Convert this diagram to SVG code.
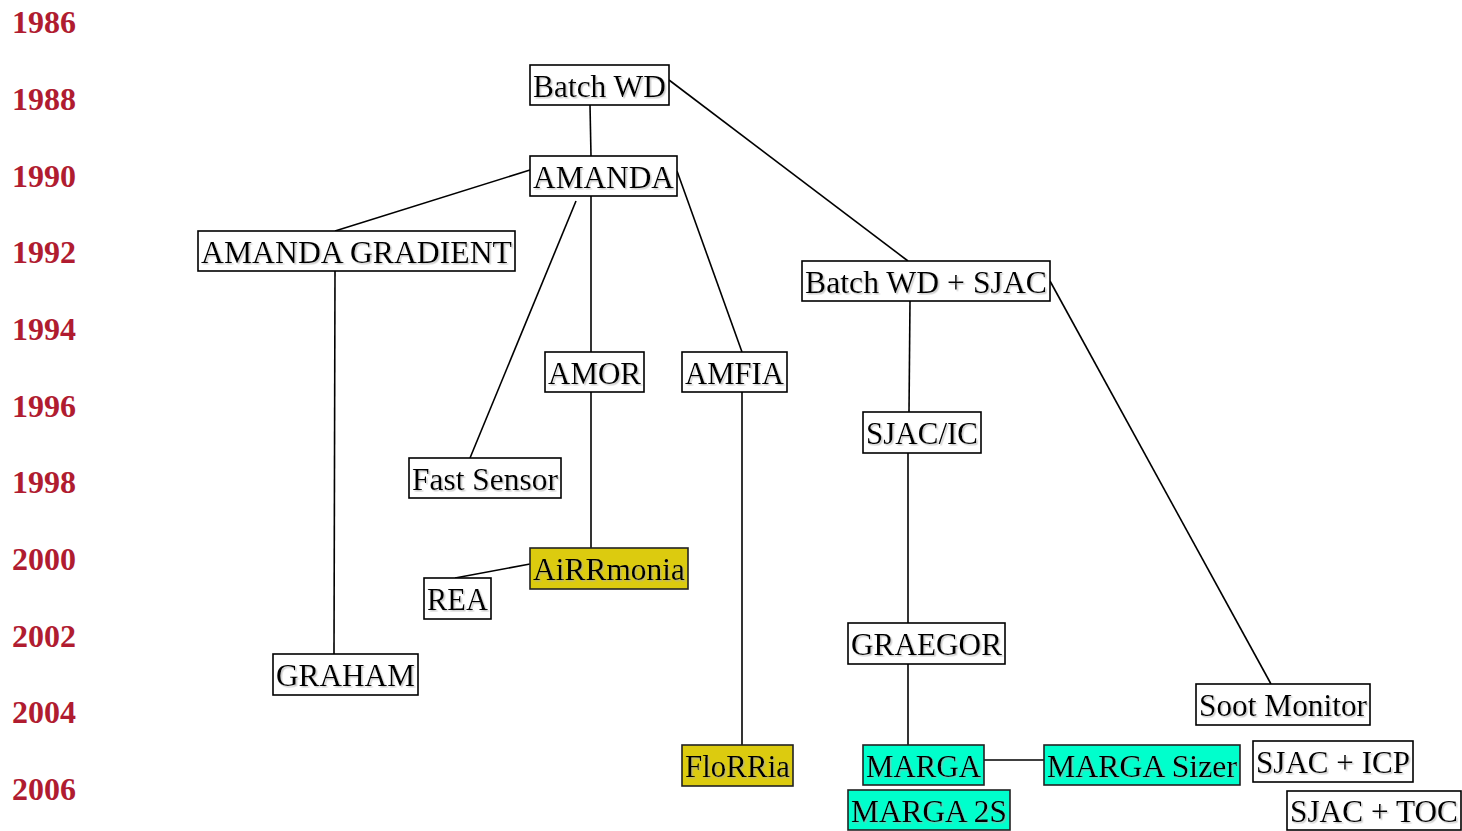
<svg xmlns="http://www.w3.org/2000/svg" width="1462" height="831" viewBox="0 0 1462 831">
<style>
.yr{font-family:"Liberation Serif","Times New Roman",serif;font-weight:bold;font-size:32px;fill:#b01c30}
.nb{fill:#ffffff;stroke:#000;stroke-width:1.6}
.ny{fill:#dccb0f;stroke:#222;stroke-width:1.6}
.nt{fill:#00ffcc;stroke:#222;stroke-width:1.6}
.lbl{font-family:"Liberation Serif","Times New Roman",serif;font-size:31px;fill:#000;text-anchor:middle;filter:url(#sh)}
#edges line{stroke:#000;stroke-width:1.6}
</style>
<defs>
<filter id="sh" x="-5%" y="-20%" width="110%" height="140%">
<feDropShadow dx="1.5" dy="1.5" stdDeviation="0.6" flood-color="#aaa" flood-opacity="0.6"/>
</filter>
</defs>
<rect width="1462" height="831" fill="#fff"/>
<g id="years">
<text class="yr" x="12" y="33">1986</text>
<text class="yr" x="12" y="110">1988</text>
<text class="yr" x="12" y="186.5">1990</text>
<text class="yr" x="12" y="263">1992</text>
<text class="yr" x="12" y="340">1994</text>
<text class="yr" x="12" y="416.5">1996</text>
<text class="yr" x="12" y="493">1998</text>
<text class="yr" x="12" y="570">2000</text>
<text class="yr" x="12" y="646.5">2002</text>
<text class="yr" x="12" y="723">2004</text>
<text class="yr" x="12" y="800">2006</text>
</g>
<g id="edges">
<line x1="590" y1="105" x2="591" y2="156"/>
<line x1="669" y1="80" x2="908" y2="261"/>
<line x1="530" y1="170" x2="335" y2="231"/>
<line x1="576" y1="201" x2="470" y2="458"/>
<line x1="591" y1="196" x2="591" y2="352"/>
<line x1="677" y1="171" x2="742" y2="352"/>
<line x1="591" y1="392" x2="591" y2="548"/>
<line x1="530" y1="564" x2="455" y2="578"/>
<line x1="335" y1="271" x2="334" y2="654"/>
<line x1="742" y1="392" x2="742" y2="745"/>
<line x1="910" y1="301" x2="909" y2="412"/>
<line x1="908" y1="453" x2="908" y2="623"/>
<line x1="908" y1="664" x2="908" y2="745"/>
<line x1="984" y1="760" x2="1044" y2="760"/>
<line x1="1050" y1="281" x2="1271" y2="684"/>
</g>
<g id="n-batchwd"><rect class="nb" x="530" y="65" width="139" height="40"/><text class="lbl" x="599.5" y="96.5" textLength="133" lengthAdjust="spacingAndGlyphs">Batch WD</text></g>
<g id="n-amanda"><rect class="nb" x="530" y="156" width="147" height="40"/><text class="lbl" x="603.5" y="187.5" textLength="141" lengthAdjust="spacingAndGlyphs">AMANDA</text></g>
<g id="n-amanda-gradient"><rect class="nb" x="198" y="231" width="317" height="40"/><text class="lbl" x="356.5" y="262.5" textLength="311" lengthAdjust="spacingAndGlyphs">AMANDA GRADIENT</text></g>
<g id="n-batchwd-sjac"><rect class="nb" x="802" y="261" width="248" height="40"/><text class="lbl" x="926" y="292.5" textLength="242" lengthAdjust="spacingAndGlyphs">Batch WD + SJAC</text></g>
<g id="n-amor"><rect class="nb" x="545" y="352" width="99" height="40"/><text class="lbl" x="594.5" y="383.5" textLength="93" lengthAdjust="spacingAndGlyphs">AMOR</text></g>
<g id="n-amfia"><rect class="nb" x="682" y="352" width="105" height="40"/><text class="lbl" x="734.5" y="383.5" textLength="99" lengthAdjust="spacingAndGlyphs">AMFIA</text></g>
<g id="n-sjacic"><rect class="nb" x="863" y="412" width="118" height="41"/><text class="lbl" x="922" y="443.5" textLength="112" lengthAdjust="spacingAndGlyphs">SJAC/IC</text></g>
<g id="n-fastsensor"><rect class="nb" x="409" y="458" width="152" height="40"/><text class="lbl" x="485" y="489.5" textLength="146" lengthAdjust="spacingAndGlyphs">Fast Sensor</text></g>
<g id="n-airrmonia"><rect class="ny" x="530" y="548" width="158" height="41"/><text class="lbl" x="609" y="579.5" textLength="152" lengthAdjust="spacingAndGlyphs">AiRRmonia</text></g>
<g id="n-rea"><rect class="nb" x="424" y="578" width="67" height="41"/><text class="lbl" x="457.5" y="609.5" textLength="61" lengthAdjust="spacingAndGlyphs">REA</text></g>
<g id="n-graham"><rect class="nb" x="273" y="654" width="145" height="41"/><text class="lbl" x="345.5" y="685.5" textLength="139" lengthAdjust="spacingAndGlyphs">GRAHAM</text></g>
<g id="n-graegor"><rect class="nb" x="848" y="623" width="157" height="41"/><text class="lbl" x="926.5" y="654.5" textLength="151" lengthAdjust="spacingAndGlyphs">GRAEGOR</text></g>
<g id="n-sootmonitor"><rect class="nb" x="1196" y="684" width="174" height="41"/><text class="lbl" x="1283" y="715.5" textLength="168" lengthAdjust="spacingAndGlyphs">Soot Monitor</text></g>
<g id="n-florria"><rect class="ny" x="682" y="745" width="111" height="41"/><text class="lbl" x="737.5" y="776.5" textLength="105" lengthAdjust="spacingAndGlyphs">FloRRia</text></g>
<g id="n-marga"><rect class="nt" x="863" y="745" width="121" height="40"/><text class="lbl" x="923.5" y="776.5" textLength="115" lengthAdjust="spacingAndGlyphs">MARGA</text></g>
<g id="n-marga-sizer"><rect class="nt" x="1044" y="745" width="196" height="40"/><text class="lbl" x="1142" y="776.5" textLength="190" lengthAdjust="spacingAndGlyphs">MARGA Sizer</text></g>
<g id="n-sjac-icp"><rect class="nb" x="1253" y="741" width="160" height="41"/><text class="lbl" x="1333" y="772.5" textLength="154" lengthAdjust="spacingAndGlyphs">SJAC + ICP</text></g>
<g id="n-marga-2s"><rect class="nt" x="848" y="790" width="162" height="40"/><text class="lbl" x="929" y="821.5" textLength="156" lengthAdjust="spacingAndGlyphs">MARGA 2S</text></g>
<g id="n-sjac-toc"><rect class="nb" x="1287" y="791" width="174" height="39"/><text class="lbl" x="1374" y="822" textLength="168" lengthAdjust="spacingAndGlyphs">SJAC + TOC</text></g>
</svg>
